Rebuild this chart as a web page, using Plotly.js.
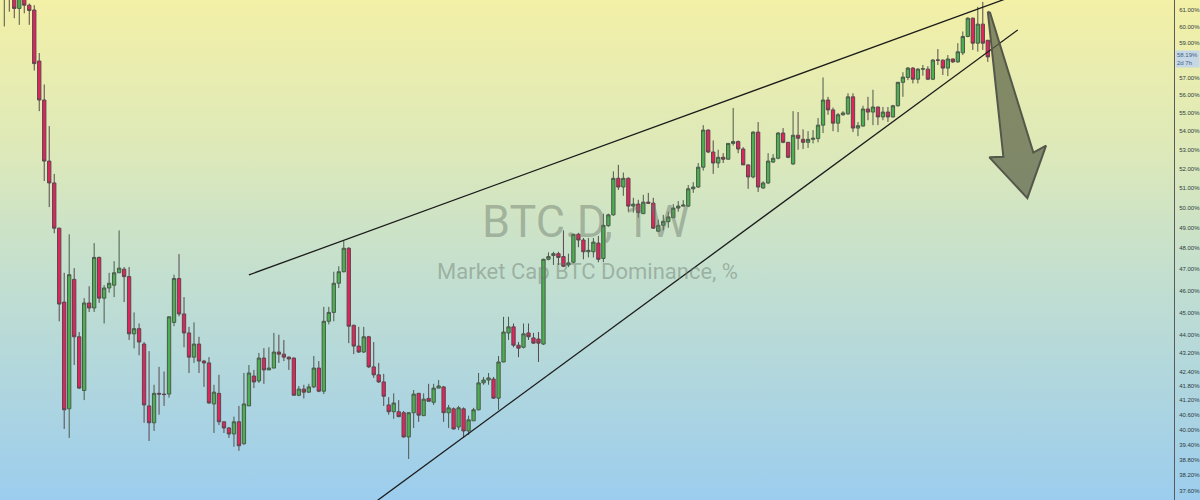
<!DOCTYPE html>
<html>
<head>
<meta charset="utf-8">
<script src="https://cdn.plot.ly/plotly-3.0.1.min.js"></script>
<style>
  html, body { margin: 0; padding: 0; }
  body { width: 1200px; height: 500px; overflow: hidden;
         background: linear-gradient(180deg, #f3f0a7 0%, #dde9b9 30%, #c3dfcf 55%, #9ccdee 100%); }
  #chart { width: 1200px; height: 500px; }
</style>
</head>
<body>
<div id="chart"></div>
<script>
// Weekly candles of BTC.D (Market Cap BTC Dominance, %), one per week starting Mon 2021-02-15
const startWeek = '2021-02-15';

const opens = [62.0,62.4,62.2,61.1,62.0,61.3,61.0,57.95,55.72,52.4,51.26,48.98,45.47,40.84,46.52,43.91,41.6,45.43,45.2,47.56,
45.65,46.12,46.25,46.83,47.0,46.65,44.04,44.27,43.59,40.96,40.27,41.48,41.45,41.45,44.55,46.56,44.93,44.08,43.02,43.59,
42.85,42.77,41.04,41.48,40.31,40.06,39.82,40.31,39.43,40.96,42.21,42.0,42.98,42.47,42.55,43.24,43.15,43.02,42.98,41.4,
41.66,41.53,41.75,42.55,41.57,44.6,45.0,46.34,46.88,48.0,44.42,43.5,43.24,43.91,42.6,42.26,41.96,41.0,40.72,40.72,
40.68,39.7,40.68,41.48,40.56,41.27,41.11,41.7,41.75,40.68,40.84,40.1,40.84,39.94,40.35,40.8,41.92,42.04,42.08,41.28,
42.81,44.08,44.35,43.54,43.45,44.08,43.86,43.81,43.59,47.47,47.65,47.74,47.6,47.2,47.33,48.68,48.4,47.83,47.83,48.25,
47.51,49.1,49.64,51.5,51.05,51.5,50.08,50.18,49.7,50.28,50.23,48.83,49.12,49.3,49.5,49.98,50.08,50.08,50.96,51.05,
52.08,54.06,52.88,52.3,52.6,52.5,53.34,53.44,53.04,52.2,51.57,53.95,51.0,51.26,52.35,52.55,53.9,53.4,52.25,53.78,
53.56,53.4,53.56,53.6,54.33,55.72,55.17,54.44,54.9,54.95,55.9,54.17,54.28,55.22,55.05,55.33,54.78,55.05,54.78,55.4,
56.72,57.0,57.54,56.9,57.48,57.48,56.9,58.01,58.0,57.54,58.07,57.9,58.43,59.4,60.5,59.0,60.14,59.17];

const highs = [62.8,63.0,62.4,62.3,62.2,61.4,61.3,58.42,56.6,54.28,51.73,49.0,46.83,48.68,47.05,44.12,45.65,46.2,48.25,47.6,
46.25,46.83,47.38,48.87,47.1,47.1,45.0,44.5,43.68,43.28,41.84,42.6,42.4,44.82,46.74,47.72,45.7,44.35,44.55,43.91,
42.9,43.02,41.84,42.26,40.31,40.1,40.52,40.96,42.34,42.68,42.47,43.2,43.41,43.45,44.08,44.0,43.77,43.05,43.0,41.79,
41.84,41.88,43.07,42.85,45.25,45.25,46.88,47.14,48.35,48.05,44.45,44.35,44.35,43.95,43.68,42.77,42.3,41.32,41.48,41.2,
40.75,40.7,41.62,41.5,41.48,41.88,41.88,42.04,41.79,41.0,40.9,40.96,40.9,40.56,40.88,42.34,42.17,42.34,42.17,43.07,
44.8,44.8,44.5,43.68,44.5,44.5,44.08,44.12,47.5,47.8,47.83,47.83,48.87,47.74,48.7,48.75,48.5,48.5,48.5,48.6,
49.7,49.7,51.86,52.2,51.8,51.55,50.5,50.4,50.65,50.75,50.5,49.4,49.64,49.8,50.18,50.33,50.38,51.15,51.3,52.3,
54.33,54.1,53.5,53.0,52.82,53.36,55.28,53.5,53.14,52.22,54.0,54.5,51.35,52.82,52.77,53.95,54.17,53.42,55.1,55.05,
54.1,54.0,54.06,54.72,57.0,55.9,55.3,55.0,55.1,56.1,56.1,54.5,55.4,55.9,56.3,55.35,55.33,55.33,55.45,56.75,
57.3,57.6,57.6,57.54,57.72,57.65,58.05,58.65,58.05,58.3,58.1,59.0,59.7,60.56,60.55,61.2,61.5,59.2];

const lows = [60.0,60.9,60.5,60.1,60.8,60.1,57.4,55.1,51.36,50.03,48.73,44.6,40.02,39.66,42.68,41.66,41.2,45.02,45.02,45.43,
44.5,45.9,45.7,46.83,45.47,43.77,43.4,43.1,40.27,39.54,39.94,40.6,40.96,41.3,44.38,44.82,43.45,42.34,42.77,42.34,
41.75,41.05,39.86,40.18,39.86,39.66,39.31,39.15,39.39,40.96,41.7,41.92,41.88,42.47,42.55,42.77,42.85,42.47,41.4,41.36,
41.27,41.5,41.7,41.53,41.45,44.46,44.6,46.12,46.85,43.63,43.15,43.2,43.2,42.55,42.13,41.92,40.96,40.6,40.43,40.5,
39.68,38.83,40.06,40.31,40.56,41.15,41.0,41.7,40.31,40.06,40.0,39.98,39.66,39.78,40.35,40.78,41.84,41.84,41.25,40.8,
42.8,43.77,43.45,43.02,43.4,43.77,43.6,42.81,43.55,47.42,47.2,47.2,47.1,47.1,47.28,48.05,47.47,47.56,47.56,47.33,
47.33,49.05,49.6,50.9,50.6,49.8,49.75,49.5,49.68,50.2,48.95,48.8,48.87,49.0,49.5,49.8,50.05,50.03,50.75,51.0,
51.9,52.82,51.73,52.04,52.3,52.48,53.22,52.82,52.2,50.96,51.5,50.8,50.96,51.2,52.3,52.5,53.35,52.55,52.2,53.0,
53.04,53.1,53.34,53.4,53.9,54.9,54.0,53.95,54.85,54.9,53.95,53.73,54.25,54.6,54.33,54.33,54.6,54.5,54.75,55.35,
55.9,56.85,56.66,56.66,57.1,56.85,56.85,57.72,57.14,57.08,57.84,57.85,58.3,59.35,58.6,58.5,58.6,57.9];

const closes = [62.4,62.2,61.1,62.0,61.3,60.97,57.8,55.72,52.4,51.26,48.98,45.38,40.8,46.74,43.91,41.7,45.43,45.2,47.56,45.65,
46.12,46.34,46.83,47.05,46.65,44.04,44.27,43.68,41.0,40.27,41.48,41.45,41.43,44.8,46.56,44.93,44.08,43.02,43.59,42.85,
42.77,41.08,41.53,40.31,40.06,39.82,40.31,39.35,41.04,42.34,41.96,42.98,42.47,42.55,43.24,43.15,43.02,42.94,41.4,41.66,
41.53,41.75,42.55,41.57,44.6,45.0,46.34,46.88,48.0,44.38,43.5,43.24,43.91,42.6,42.26,41.96,41.36,40.72,41.08,40.52,
39.7,40.68,41.45,40.58,41.24,41.15,41.7,41.79,40.68,40.88,40.02,40.88,39.94,40.39,40.8,41.92,42.04,42.13,41.28,42.81,
44.12,44.35,43.54,43.41,44.04,43.91,43.63,43.63,47.47,47.6,47.74,47.56,47.14,47.3,48.68,48.4,47.83,47.9,48.3,47.47,
49.12,49.64,51.5,51.05,51.5,50.08,50.18,49.75,50.28,50.23,48.98,49.12,49.32,49.54,49.98,50.08,50.13,50.96,51.05,52.08,
54.06,52.88,52.3,52.6,52.5,53.34,53.44,53.04,52.2,51.57,53.95,51.05,51.26,52.4,52.55,53.9,53.4,52.6,53.78,53.62,
53.4,53.56,53.62,54.33,55.72,55.17,54.44,54.9,55.0,55.9,54.17,54.3,55.22,55.05,55.33,54.78,55.05,54.78,55.4,56.72,
57.02,57.54,56.9,57.48,57.5,56.9,58.01,58.0,57.54,58.07,57.9,58.49,59.4,60.5,59.0,60.14,59.0,58.19];

// Right-hand price scale labels (%)
const yTickVals = [37.6,38.2,38.8,39.4,40,40.6,41.2,41.8,42.4,43.2,44,45,46,47,48,49,50,51,52,53,54,55,56,57,59,60,61];
const yTickText = ['37.60%','38.20%','38.80%','39.40%','40.00%','40.60%','41.20%','41.80%','42.40%','43.20%','44.00%',
  '45.00%','46.00%','47.00%','48.00%','49.00%','50.00%','51.00%','52.00%','53.00%','54.00%','55.00%','56.00%','57.00%',
  '59.00%','60.00%','61.00%'];

// Last price label
const lastPrice = 58.19;
const lastLabel = ['58.19%', '2d 7h'];

// Hand-drawn wedge lines (week index, value %)
const upperLineWeek = [49.0, 202.0];
const upperLineVal  = [46.73, 61.85];
const lowerLineWeek = [73.26, 203.0];
const lowerLineVal  = [37.04, 59.79];

// Hand-drawn arrow outline (week index, value %)
const arrowWeek = [197.0, 197.46, 206.13, 208.67, 204.93, 197.32, 200.12, 197.0];
const arrowVal  = [60.90, 60.84, 52.85, 53.22, 50.48, 52.60, 52.63, 60.90];

// Watermark
const wmTitle = 'BTC.D, 1W';
const wmSub = 'Market Cap BTC Dominance, %';

// ---- helpers ----
const WEEK_MS = 7 * 24 * 3600 * 1000;
const t0 = Date.parse(startWeek + 'T00:00:00Z');
function wk(k) {
  return new Date(t0 + k * WEEK_MS).toISOString().replace('T', ' ').replace('Z', '');
}
const dates = opens.map((_, i) => wk(i));

const candles = {
  type: 'candlestick',
  x: dates, open: opens, high: highs, low: lows, close: closes,
  increasing: { line: { color: '#4b5a4b', width: 1 }, fillcolor: '#4caf50' },
  decreasing: { line: { color: '#5a474c', width: 1 }, fillcolor: '#e3245c' },
  whiskerwidth: 0,
  hoverinfo: 'skip',
  showlegend: false
};

const upper = { type: 'scatter', mode: 'lines', x: upperLineWeek.map(wk), y: upperLineVal,
  line: { color: '#1c1c1c', width: 1.3 }, hoverinfo: 'skip', showlegend: false };
const lower = { type: 'scatter', mode: 'lines', x: lowerLineWeek.map(wk), y: lowerLineVal,
  line: { color: '#1c1c1c', width: 1.3 }, hoverinfo: 'skip', showlegend: false };
const arrow = { type: 'scatter', mode: 'lines', x: arrowWeek.map(wk), y: arrowVal, fill: 'toself',
  fillcolor: 'rgba(92,98,72,0.72)', line: { color: '#55574a', width: 2 }, hoverinfo: 'skip', showlegend: false };

const layout = {
  width: 1200, height: 500,
  margin: { l: 0, r: 26, t: 0, b: 0, pad: 0 },
  paper_bgcolor: 'rgba(0,0,0,0)', plot_bgcolor: 'rgba(0,0,0,0)',
  showlegend: false,
  boxgap: 0.3, boxgroupgap: 0.05,
  xaxis: { type: 'date', range: [wk(-0.86), wk(234.3)], visible: false,
           rangeslider: { visible: false }, fixedrange: true },
  yaxis: { type: 'log', side: 'right', range: [Math.log10(37.26), Math.log10(61.62)],
           tickmode: 'array', tickvals: yTickVals, ticktext: yTickText,
           showgrid: false, zeroline: false, showline: true, linecolor: '#5a5a5a', linewidth: 1,
           ticks: '', ticklabelstandoff: 3,
           tickfont: { family: 'Liberation Sans, Arial, sans-serif', size: 6, color: '#2f3a40' },
           fixedrange: true },
  annotations: [
    { text: wmTitle, xref: 'paper', yref: 'paper', x: 0.499, y: 0.556, xanchor: 'center', yanchor: 'middle',
      showarrow: false, font: { family: 'Roboto, sans-serif', size: 45, color: 'rgba(105,118,105,0.45)' } },
    { text: wmSub, xref: 'paper', yref: 'paper', x: 0.5, y: 0.458, xanchor: 'center', yanchor: 'middle',
      showarrow: false, font: { family: 'Roboto, sans-serif', size: 22, color: 'rgba(105,118,105,0.45)' } },
    { text: lastLabel.join('<br>'), xref: 'paper', yref: 'y', x: 1, y: Math.log10(lastPrice),
      xanchor: 'left', yanchor: 'middle', xshift: 1, yshift: -2, showarrow: false, align: 'left',
      bgcolor: 'rgba(196,214,232,0.95)', borderpad: 1,
      font: { family: 'Liberation Sans, Arial, sans-serif', size: 6, color: '#3f5f86' } }
  ]
};

Plotly.newPlot('chart', [candles, upper, lower, arrow], layout, { staticPlot: true, displayModeBar: false });
</script>
</body>
</html>
